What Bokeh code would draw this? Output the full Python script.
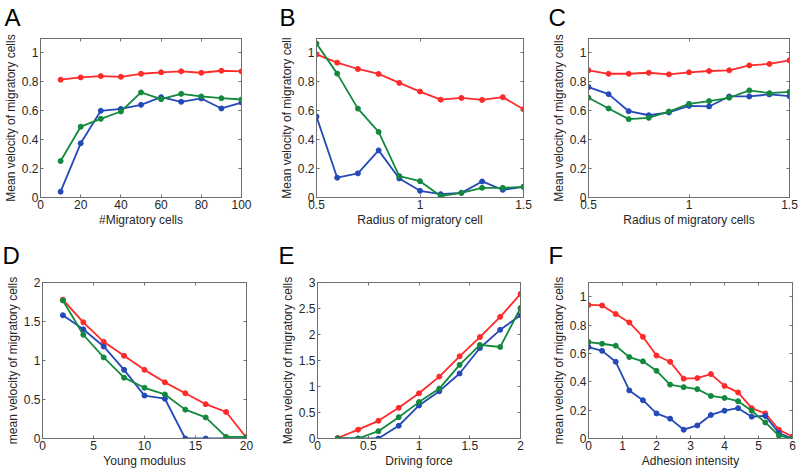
from bokeh.plotting import figure
from bokeh.layouts import column, row
from bokeh.models import FixedTicker, LinearAxis, Range1d, Title
from bokeh.embed import file_html
from bokeh.resources import INLINE

FONT = "Liberation Sans"
RED, GREEN, BLUE = "#ff2a2a", "#13893d", "#2449b8"
FRAME = "#6f6f6f"
TXT = "#262626"

# ---------------- data ----------------
a_x = [10, 20, 30, 40, 50, 60, 70, 80, 90, 100]
a_red = [0.815, 0.831, 0.840, 0.835, 0.856, 0.866, 0.873, 0.863, 0.877, 0.873]
a_green = [0.252, 0.490, 0.544, 0.595, 0.727, 0.680, 0.717, 0.699, 0.687, 0.678]
a_blue = [0.040, 0.375, 0.600, 0.613, 0.641, 0.694, 0.662, 0.685, 0.616, 0.657]

b_x = [0.5, 0.6, 0.7, 0.8, 0.9, 1.0, 1.1, 1.2, 1.3, 1.4, 1.5]
b_red = [0.990, 0.933, 0.889, 0.855, 0.793, 0.733, 0.677, 0.689, 0.675, 0.694, 0.611]
b_green = [1.065, 0.857, 0.615, 0.454, 0.148, 0.113, 0.010, 0.032, 0.067, 0.067, 0.074]
b_blue = [0.560, 0.137, 0.167, 0.326, 0.132, 0.046, 0.023, 0.032, 0.111, 0.053, 0.074]

c_x = [0.5, 0.6, 0.7, 0.8, 0.9, 1.0, 1.1, 1.2, 1.3, 1.4, 1.5]
c_red = [0.880, 0.856, 0.856, 0.863, 0.852, 0.866, 0.875, 0.880, 0.914, 0.924, 0.949]
c_green = [0.690, 0.616, 0.542, 0.551, 0.595, 0.648, 0.667, 0.690, 0.741, 0.722, 0.731]
c_blue = [0.764, 0.715, 0.597, 0.569, 0.588, 0.634, 0.630, 0.699, 0.699, 0.713, 0.701]

d_x = [2, 4, 6, 8, 10, 12, 14, 16, 18, 20]
d_red = [1.78, 1.49, 1.24, 1.06, 0.88, 0.72, 0.58, 0.44, 0.34, 0.01]
d_green = [1.77, 1.33, 1.04, 0.78, 0.65, 0.565, 0.37, 0.27, 0.02, 0.02]
d_blue = [1.58, 1.40, 1.18, 0.88, 0.55, 0.51, 0.0, 0.0, 0.0, 0.0]

e_x = [0.2, 0.4, 0.6, 0.8, 1.0, 1.2, 1.4, 1.6, 1.8, 2.0]
e_red = [0.01, 0.17, 0.34, 0.59, 0.87, 1.19, 1.58, 1.95, 2.34, 2.78]
e_green = [0.0, 0.0, 0.14, 0.41, 0.70, 0.96, 1.415, 1.80, 1.76, 2.51]
e_blue = [0.0, 0.0, 0.0, 0.245, 0.635, 0.91, 1.25, 1.74, 2.09, 2.37]

f_x = [0.0, 0.4, 0.8, 1.2, 1.6, 2.0, 2.4, 2.8, 3.2, 3.6, 4.0, 4.4, 4.8, 5.2, 5.6, 6.0]
f_red = [0.942, 0.938, 0.878, 0.818, 0.717, 0.585, 0.541, 0.422, 0.426, 0.454,
         0.371, 0.325, 0.214, 0.177, 0.062, 0.014]
f_green = [0.680, 0.668, 0.654, 0.574, 0.544, 0.477, 0.380, 0.362, 0.348, 0.300,
           0.286, 0.263, 0.196, 0.113, 0.020, 0.0]
f_blue = [0.645, 0.618, 0.541, 0.339, 0.270, 0.177, 0.140, 0.062, 0.092, 0.166,
          0.196, 0.214, 0.154, 0.159, 0.039, 0.0]

# tick values and labels
ticks_0_100 = [0, 20, 40, 60, 80, 100]
labels_0_100 = ["0", "20", "40", "60", "80", "100"]
ticks_05_15 = [0.5, 1, 1.5]
labels_05_15 = ["0.5", "1", "1.5"]
ticks_0_1 = [0, 0.2, 0.4, 0.6, 0.8, 1]
labels_0_1 = ["0", "0.2", "0.4", "0.6", "0.8", "1"]
ticks_0_20 = [0, 5, 10, 15, 20]
labels_0_20 = ["0", "5", "10", "15", "20"]
ticks_0_2 = [0, 0.5, 1, 1.5, 2]
labels_0_2 = ["0", "0.5", "1", "1.5", "2"]
ticks_0_3 = [0, 0.5, 1, 1.5, 2, 2.5, 3]
labels_0_3 = ["0", "0.5", "1", "1.5", "2", "2.5", "3"]
ticks_0_6 = [0, 1, 2, 3, 4, 5, 6]
labels_0_6 = ["0", "1", "2", "3", "4", "5", "6"]


def style_axis(ax, ticks, labels, show_labels=True):
    ax.ticker = FixedTicker(ticks=ticks, minor_ticks=[])
    ax.axis_line_color = FRAME
    ax.axis_line_width = 1
    ax.major_tick_line_color = FRAME
    ax.major_tick_in = 3
    ax.major_tick_out = 0
    ax.minor_tick_in = 0
    ax.minor_tick_out = 0
    if show_labels:
        ax.major_label_overrides = dict(zip(ticks, labels))
        ax.major_label_text_font = FONT
        ax.major_label_text_font_size = "12px"
        ax.major_label_text_color = TXT
        ax.major_label_standoff = 2
        ax.axis_label_text_font = FONT
        ax.axis_label_text_font_size = "12px"
        ax.axis_label_text_font_style = "normal"
        ax.axis_label_text_color = TXT
        ax.axis_label_standoff = 1
    else:
        ax.major_label_overrides = {t: "" for t in ticks}
        ax.major_label_text_font_size = "0px"
        ax.major_label_standoff = 0


def make_panel(letter, xs, red, green, blue, xlabel, ylabel, xr, yr,
               xt, xl, yt, yl, width, height, bl, br, bt, bb, loff, gap):
    p = figure(width=width, height=height,
               x_range=Range1d(*xr), y_range=Range1d(*yr),
               output_backend="svg", toolbar_location=None,
               min_border_left=bl, min_border_right=br,
               min_border_top=bt, min_border_bottom=bb,
               x_axis_label=xlabel, y_axis_label=ylabel)
    p.grid.visible = False
    p.outline_line_color = FRAME
    p.outline_line_width = 1
    p.background_fill_color = "white"
    p.border_fill_color = "white"
    style_axis(p.xaxis[0], xt, xl)
    style_axis(p.yaxis[0], yt, yl)
    top = LinearAxis()
    right = LinearAxis()
    style_axis(top, xt, xl, show_labels=False)
    style_axis(right, yt, yl, show_labels=False)
    p.add_layout(top, "above")
    p.add_layout(right, "right")
    # invisible spacer axis that lifts the panel letter above the frame
    spacer = LinearAxis()
    style_axis(spacer, xt, xl, show_labels=False)
    spacer.major_tick_in = 0
    spacer.major_tick_out = gap
    spacer.major_tick_line_alpha = 0
    spacer.axis_line_alpha = 0
    p.add_layout(spacer, "above")
    p.add_layout(Title(text=letter, align="left", offset=loff, standoff=0,
                       text_font=FONT, text_font_size="24px",
                       text_font_style="normal", text_color="black"), "above")
    for ys, col in ((red, RED), (blue, BLUE), (green, GREEN)):
        p.line(xs, ys, line_color=col, line_width=1.8)
        p.scatter(xs, ys, size=5, fill_color=col, line_color=col)
    return p


H1, H2 = 232, 238
pa = make_panel("A", a_x, a_red, a_green, a_blue, "#Migratory cells",
                "Mean velocity of migratory cells", (0, 100), (0, 1.1),
                ticks_0_100, labels_0_100, ticks_0_1, labels_0_1,
                276, H1, 39, 35, 38, 35, -36, 8)
pb = make_panel("B", b_x, b_red, b_green, b_blue, "Radius of migratory cell",
                "Mean velocity of migratory cell", (0.5, 1.5), (0, 1.1),
                ticks_05_15, labels_05_15, ticks_0_1, labels_0_1,
                272, H1, 39, 25, 38, 35, -37, 8)
pc = make_panel("C", c_x, c_red, c_green, c_blue, "Radius of migratory cells",
                "Mean velocity of migratory cells", (0.5, 1.5), (0, 1.1),
                ticks_05_15, labels_05_15, ticks_0_1, labels_0_1,
                252, H1, 40, 11, 38, 35, -40, 8)
pd = make_panel("D", d_x, d_red, d_green, d_blue, "Young modulus",
                "mean velocity of migratory cells", (0, 20), (0, 2),
                ticks_0_20, labels_0_20, ticks_0_2, labels_0_2,
                276, H2, 42, 30, 50, 29, -40, 14)
pe = make_panel("E", e_x, e_red, e_green, e_blue, "Driving force",
                "Mean velocity of migratory cells", (0, 2), (0, 3),
                ticks_0_2, labels_0_2, ticks_0_3, labels_0_3,
                272, H2, 41, 28, 50, 29, -39, 14)
pf = make_panel("F", f_x, f_red, f_green, f_blue, "Adhesion intensity",
                "mean velocity of migratory cells", (0, 6), (0, 1.1),
                ticks_0_6, labels_0_6, ticks_0_1, labels_0_1,
                252, H2, 40, 8, 50, 29, -40, 14)

layout = column(row(pa, pb, pc, spacing=0), row(pd, pe, pf, spacing=0), spacing=0)

open("out.html", "w").write(file_html(layout, INLINE))
